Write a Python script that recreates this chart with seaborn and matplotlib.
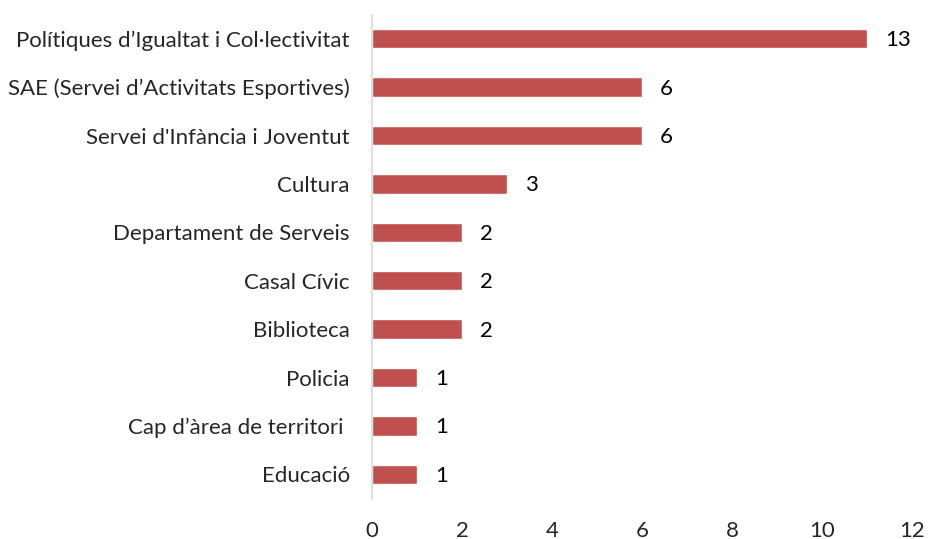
import pandas as pd
import seaborn as sns
import matplotlib.pyplot as plt

categories = [
    "Polítiques d’Igualtat i Col·lectivitat",
    "SAE (Servei d’Activitats Esportives)",
    "Servei d'Infància i Joventut",
    "Cultura",
    "Departament de Serveis",
    "Casal Cívic",
    "Biblioteca",
    "Policia",
    "Cap d’àrea de territori ",
    "Educació",
]
# bar lengths as drawn, and the data labels as printed (first one differs in the source)
bar_values = [11, 6, 6, 3, 2, 2, 2, 1, 1, 1]
label_values = ["13", "6", "6", "3", "2", "2", "2", "1", "1", "1"]
x_ticks = [0, 2, 4, 6, 8, 10, 12]

df = pd.DataFrame({"Servei": categories, "Valor": bar_values})

sns.set_theme(style="white")
plt.rcParams["font.family"] = ["Lato", "DejaVu Sans"]

fig = plt.figure(figsize=(9.29, 5.39), dpi=100)
ax = fig.add_axes([0.4004, 0.075, 0.5813, 0.898])

sns.barplot(data=df, x="Valor", y="Servei", color="#C0504D", width=0.4,
            saturation=1, ax=ax)

for i, (v, lab) in enumerate(zip(bar_values, label_values)):
    ax.annotate(lab, xy=(v, i), xytext=(13, -1), textcoords="offset points",
                va="center", ha="left", fontsize=16, color="black")

ax.set_xlim(0, 12)
ax.set_xticks(x_ticks)
ax.set_xlabel("")
ax.set_ylabel("")
ax.tick_params(axis="x", labelsize=16, length=0, pad=16)
ax.tick_params(axis="y", labelsize=16, length=0, pad=16)
for s in ["top", "right", "bottom"]:
    ax.spines[s].set_visible(False)
ax.spines["left"].set_color("#D9D9D9")
ax.spines["left"].set_linewidth(1.2)

plt.savefig("out.png", dpi=100)
plt.close()
